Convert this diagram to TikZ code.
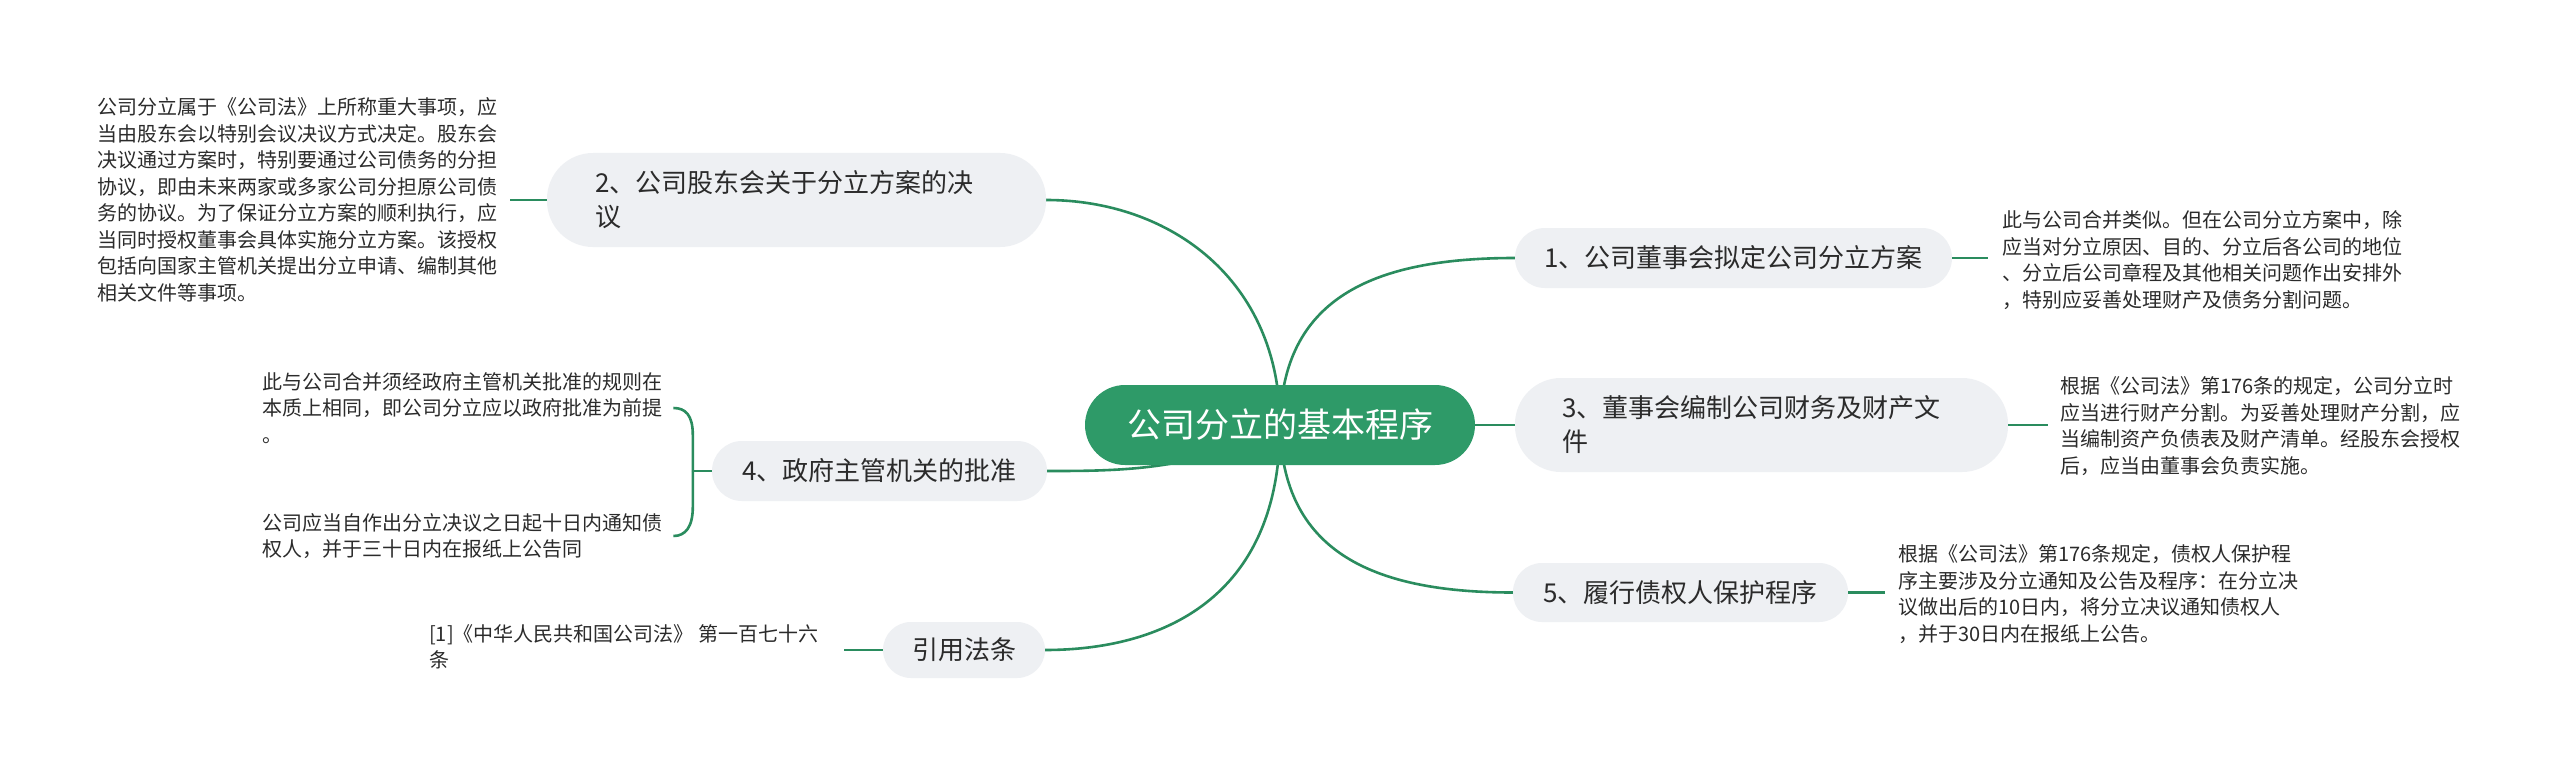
\documentclass[tikz,border=0pt]{standalone}
\usepackage{fontspec}
\setmainfont{Noto Sans CJK SC}
\usetikzlibrary{backgrounds}
\definecolor{linec}{HTML}{2A8C5E}
\definecolor{centerc}{HTML}{2E9A68}
\definecolor{nodegray}{HTML}{EEF0F3}
\definecolor{textc}{HTML}{2B2B2B}
\tikzset{
  conn/.style={draw=linec, line width=2.6pt},
  topic/.style={fill=nodegray, text=textc, inner sep=0pt, align=left,
    font=\fontsize{26}{34}\selectfont},
  leaf/.style={text=textc, inner sep=0pt, align=left,
    font=\fontsize{20}{26.5}\selectfont},
  rootbox/.style={fill=centerc, text=white, inner sep=0pt, align=center,
    minimum width=390pt, minimum height=80pt, rounded corners=40pt,
    font=\fontsize{34}{40}\selectfont}
}
\begin{document}
\begin{tikzpicture}[x=1pt,y=-1pt]
\useasboundingbox (0,0) rectangle (2560,773);

% root
\node[rootbox] (c) at (1280,425) {公司分立的基本程序};

% topics
\node[topic, minimum width=437pt, minimum height=60pt, rounded corners=30pt, text width=378pt]
  (n1) at (1733.5,258) {1、公司董事会拟定公司分立方案};
\node[topic, minimum width=499pt, minimum height=94pt, rounded corners=46pt, text width=403pt]
  (n2) at (796.5,200) {2、公司股东会关于分立方案的决\\议};
\node[topic, minimum width=493pt, minimum height=94pt, rounded corners=46pt, text width=399pt]
  (n3) at (1761.5,425) {3、董事会编制公司财务及财产文\\件};
\node[topic, minimum width=335pt, minimum height=60pt, rounded corners=30pt, text width=275pt]
  (n4) at (879.5,471) {4、政府主管机关的批准};
\node[topic, minimum width=335pt, minimum height=59pt, rounded corners=29pt, text width=275pt]
  (n5) at (1680.5,592.5) {5、履行债权人保护程序};
\node[topic, align=center, minimum width=162pt, minimum height=56pt, rounded corners=28pt]
  (nr) at (964,650) {引用法条};

% leaves
\node[leaf, anchor=west] (L2) at (97,200) {公司分立属于《公司法》上所称重大事项，应\\当由股东会以特别会议决议方式决定。股东会\\决议通过方案时，特别要通过公司债务的分担\\协议，即由未来两家或多家公司分担原公司债\\务的协议。为了保证分立方案的顺利执行，应\\当同时授权董事会具体实施分立方案。该授权\\包括向国家主管机关提出分立申请、编制其他\\相关文件等事项。};
\node[leaf, anchor=west] (L1) at (2002,260) {此与公司合并类似。但在公司分立方案中，除\\应当对分立原因、目的、分立后各公司的地位\\、分立后公司章程及其他相关问题作出安排外\\，特别应妥善处理财产及债务分割问题。};
\node[leaf, anchor=west] (L3) at (2060,426) {根据《公司法》第176条的规定，公司分立时\\应当进行财产分割。为妥善处理财产分割，应\\当编制资产负债表及财产清单。经股东会授权\\后，应当由董事会负责实施。};
\node[leaf, anchor=west] (L5) at (1898,594) {根据《公司法》第176条规定，债权人保护程\\序主要涉及分立通知及公告及程序：在分立决\\议做出后的10日内，将分立决议通知债权人\\，并于30日内在报纸上公告。};
\node[leaf, anchor=west] (L4a) at (262,408) {此与公司合并须经政府主管机关批准的规则在\\本质上相同，即公司分立应以政府批准为前提\\。};
\node[leaf, anchor=west] (L4b) at (262,536) {公司应当自作出分立决议之日起十日内通知债\\权人，并于三十日内在报纸上公告同};
\node[leaf, anchor=west] (Lr) at (429,647) {[1]《中华人民共和国公司法》 第一百七十六\\条};

\begin{scope}[on background layer]
  \fill[white] (0,0) rectangle (2560,773);
  % root to topics
  \draw[conn] (c.center) .. controls (1282,300) and (1370,258) .. (n1.west);
  \draw[conn] (c.center) .. controls (1280,280) and (1170,200) .. (n2.east);
  \draw[conn] (c.east) -- (n3.west);
  \draw[conn] (c.center) .. controls (1200,471) and (1120,471) .. (n4.east);
  \draw[conn] (c.center) .. controls (1282,550) and (1370,592.5) .. (n5.west);
  \draw[conn] (c.center) .. controls (1280,600) and (1160,650) .. (nr.east);
\end{scope}

% topics to leaves
\draw[conn] (n1.east) -- ([xshift=-14pt]L1.west |- n1.east);
\draw[conn] (n2.west) -- ([xshift=13pt]L2.east |- n2.west);
\draw[conn] (n3.east) -- ([xshift=-12pt]L3.west |- n3.east);
\draw[conn] (n5.east) -- ([xshift=-13pt]L5.west |- n5.east);
\draw[conn] (nr.west) -- ++(-39,0) coordinate (re);
\draw[conn] (n4.west) -- ++(-19,0) coordinate (b4);
\draw[conn] (b4) -- ++(0,-36) .. controls +(0,-20) and +(12,0) .. ([xshift=11pt]L4a.east);
\draw[conn] (b4) -- ++(0,36) .. controls +(0,20) and +(12,0) .. ([xshift=11pt]L4b.east);
\end{tikzpicture}
\end{document}
